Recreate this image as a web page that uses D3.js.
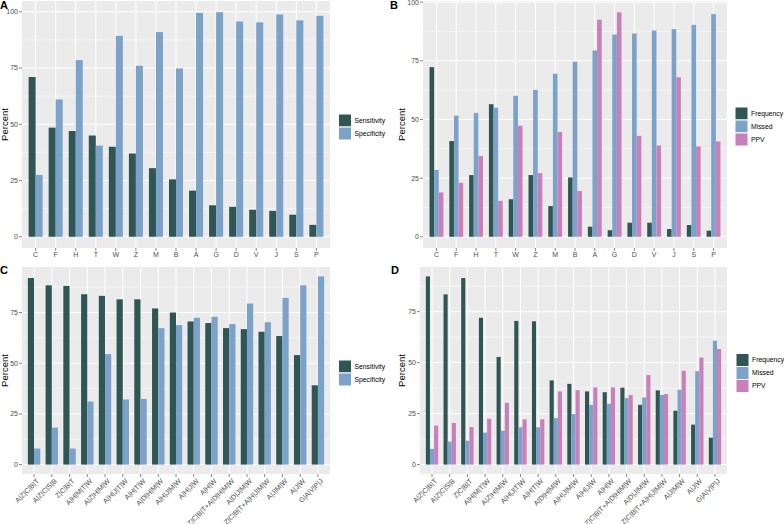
<!DOCTYPE html>
<html>
<head>
<meta charset="utf-8">
<script src="https://cdn.jsdelivr.net/npm/d3@7"></script>
<style>
  body { margin: 0; background: #fff; }
  svg { font-family: "Liberation Sans", Arial, sans-serif; }
</style>
</head>
<body>
<div id="chart"></div>
<script>
// single markers (panels A and B)
const markers = ["C","F","H","T","W","Z","M","B","A","G","D","V","J","S","P"];
const aSensitivity = [71, 48.5, 47, 45, 40, 37, 30.5, 25.5, 20.5, 14, 13.3, 12, 11.5, 9.8, 5.3];
const aSpecificity = [27.5, 61, 78.5, 40.5, 89.3, 76, 91, 74.8, 99.5, 99.8, 95.7, 95.3, 98.8, 96.2, 98.2];
const bFrequency = [72.3, 40.8, 26.3, 56.5, 16, 26.3, 13.1, 25.3, 4.3, 2.8, 6, 6, 3.3, 5, 2.6];
const bMissed = [28.5, 51.6, 52.8, 55, 60.1, 62.6, 69.5, 74.6, 79.4, 86.2, 86.6, 87.9, 88.5, 90.3, 94.9];
const bPPV = [18.9, 23, 34.4, 15.3, 47.3, 27.1, 44.7, 19.5, 92.5, 95.7, 43, 38.9, 68, 38.5, 40.6];

// marker combinations (panels C and D)
const combos = ["A|Z|C|B|T","A|Z|C|S|B","Z|C|B|T","A|H|M|T|W","A|Z|H|M|W","A|H|J|T|W","A|H|T|W",
  "A|D|H|M|W","A|H|J|M|W","A|H|J|W","A|H|W","Z|C|B|T+A|D|H|M|W","A|D|J|M|W",
  "Z|C|B|T+A|H|J|M|W","A|J|M|W","A|J|W","G|A|V|P|J"];
const cSensitivity = [92, 88.4, 88.1, 84, 83.2, 81.5, 81.5, 77, 75, 70.6, 69.8, 67.3, 66.8, 65.5, 63.4, 54, 39.1];
const cSpecificity = [7.9, 18.2, 7.9, 31.1, 54.5, 32.1, 32.4, 67.3, 68.8, 72.4, 72.9, 69.3, 79.4, 70.2, 82.2, 88.4, 92.8];
const dFrequency = [92.3, 83.5, 91.5, 72, 52.8, 70.5, 70.3, 41.3, 39.6, 35.9, 35.5, 37.7, 29.3, 36.4, 26.4, 19.6, 13.2];
const dMissed = [7.7, 11.3, 11.7, 15.7, 16.6, 18.3, 18.3, 22.8, 24.8, 29.3, 29.8, 32.6, 32.9, 34.2, 36.7, 45.8, 60.8];
const dPPV = [19.1, 20.4, 18.4, 22.5, 30.3, 22.2, 22.2, 35.9, 36.5, 37.8, 37.8, 34.1, 43.9, 34.6, 46, 52.5, 56.7];

const yTicks = [0, 25, 50, 75, 100];
const colors = ["#2F5654", "#7BA2C8", "#C97FBA"];

const svg = d3.select("#chart").append("svg")
  .attr("width", 784).attr("height", 524);

function drawPanel(p) {
  const g = svg.append("g");
  const maxV = d3.max(p.series.flat());
  const y = d3.scaleLinear()
    .domain([-0.05 * maxV, 1.05 * maxV])
    .range([p.bottom, p.top]);
  const x = d3.scaleBand()
    .domain(p.cats)
    .range([p.left, p.right])
    .paddingInner(0).paddingOuter(0.18);
  const groupW = x.bandwidth() * 0.7;
  const sub = d3.scaleBand()
    .domain(d3.range(p.series.length))
    .range([0, groupW]);

  // panel background
  g.append("rect")
    .attr("x", p.left).attr("y", p.top)
    .attr("width", p.right - p.left).attr("height", p.bottom - p.top)
    .attr("fill", "#EBEBEB");

  const ticks = yTicks.filter(t => t <= y.domain()[1]);
  // minor grid
  const minors = d3.range(12.5, y.domain()[1], 25);
  g.selectAll("line.minor").data(minors).join("line")
    .attr("x1", p.left).attr("x2", p.right)
    .attr("y1", d => y(d)).attr("y2", d => y(d))
    .attr("stroke", "#fff").attr("stroke-width", 0.5);
  // major grid
  g.selectAll("line.hmajor").data(ticks).join("line")
    .attr("x1", p.left).attr("x2", p.right)
    .attr("y1", d => y(d)).attr("y2", d => y(d))
    .attr("stroke", "#fff").attr("stroke-width", 1);
  g.selectAll("line.vmajor").data(p.cats).join("line")
    .attr("x1", d => x(d) + x.bandwidth() / 2).attr("x2", d => x(d) + x.bandwidth() / 2)
    .attr("y1", p.top).attr("y2", p.bottom)
    .attr("stroke", "#fff").attr("stroke-width", 1);

  // bars
  p.series.forEach((vals, si) => {
    g.append("g").selectAll("rect").data(vals).join("rect")
      .attr("x", (d, i) => x(p.cats[i]) + (x.bandwidth() - groupW) / 2 + sub(si))
      .attr("width", sub.bandwidth())
      .attr("y", d => y(d))
      .attr("height", d => y(0) - y(d))
      .attr("fill", colors[si]);
  });

  // y axis
  g.selectAll("line.ytick").data(ticks).join("line")
    .attr("x1", p.left - 3).attr("x2", p.left)
    .attr("y1", d => y(d)).attr("y2", d => y(d))
    .attr("stroke", "#333").attr("stroke-width", 0.6);
  g.selectAll("text.ylab").data(ticks).join("text")
    .attr("x", p.left - 4).attr("y", d => y(d))
    .attr("dy", "0.35em").attr("text-anchor", "end")
    .attr("font-size", 7).attr("fill", "#4D4D4D")
    .text(d => d);
  g.append("text")
    .attr("transform", `translate(${p.titleX},${(p.top + p.bottom) / 2}) rotate(-90)`)
    .attr("text-anchor", "middle").attr("dy", "0.35em")
    .attr("font-size", 9.5).attr("fill", "#000")
    .text("Percent");

  // x axis
  g.selectAll("line.xtick").data(p.cats).join("line")
    .attr("x1", d => x(d) + x.bandwidth() / 2).attr("x2", d => x(d) + x.bandwidth() / 2)
    .attr("y1", p.bottom).attr("y2", p.bottom + 3)
    .attr("stroke", "#333").attr("stroke-width", 0.6);
  if (p.rotate) {
    g.selectAll("text.xlab").data(p.cats).join("text")
      .attr("transform", d => `translate(${x(d) + x.bandwidth() / 2 + 2},${p.bottom + 4}) rotate(-45)`)
      .attr("text-anchor", "end").attr("dy", "0.7em")
      .attr("font-size", 7.1).attr("fill", "#4D4D4D")
      .text(d => d);
  } else {
    g.selectAll("text.xlab").data(p.cats).join("text")
      .attr("x", d => x(d) + x.bandwidth() / 2).attr("y", p.bottom + 4)
      .attr("dy", "0.75em").attr("text-anchor", "middle")
      .attr("font-size", 7).attr("fill", "#4D4D4D")
      .text(d => d);
  }

  // tag
  g.append("text")
    .attr("x", p.tagX).attr("y", p.tagY)
    .attr("font-size", 11).attr("font-weight", "bold")
    .text(p.tag);

  // legend
  const key = 13;
  p.names.forEach((n, i) => {
    g.append("rect")
      .attr("x", p.legX).attr("y", p.legY + i * key)
      .attr("width", key).attr("height", key)
      .attr("fill", colors[i]).attr("stroke", "#fff").attr("stroke-width", 1);
    g.append("text")
      .attr("x", p.legX + key + 3).attr("y", p.legY + i * key + key / 2)
      .attr("dy", "0.35em").attr("font-size", 6.8).attr("fill", "#000")
      .text(n);
  });
}

drawPanel({
  tag: "A", tagX: 0, tagY: 9, cats: markers,
  series: [aSensitivity, aSpecificity], names: ["Sensitivity", "Specificity"],
  left: 22, right: 330, top: 1, bottom: 248, titleX: 5,
  legX: 338.5, legY: 114, rotate: false
});
drawPanel({
  tag: "B", tagX: 390, tagY: 9, cats: markers,
  series: [bFrequency, bMissed, bPPV], names: ["Frequency", "Missed", "PPV"],
  left: 423, right: 727, top: 1, bottom: 248, titleX: 402,
  legX: 735, legY: 107, rotate: false
});
drawPanel({
  tag: "C", tagX: 0, tagY: 274, cats: combos,
  series: [cSensitivity, cSpecificity], names: ["Sensitivity", "Specificity"],
  left: 22, right: 330, top: 267, bottom: 474, titleX: 5,
  legX: 338.5, legY: 360, rotate: true
});
drawPanel({
  tag: "D", tagX: 391, tagY: 274, cats: combos,
  series: [dFrequency, dMissed, dPPV], names: ["Frequency", "Missed", "PPV"],
  left: 420, right: 727, top: 267, bottom: 474, titleX: 402,
  legX: 736, legY: 353.5, rotate: true
});
</script>
</body>
</html>
